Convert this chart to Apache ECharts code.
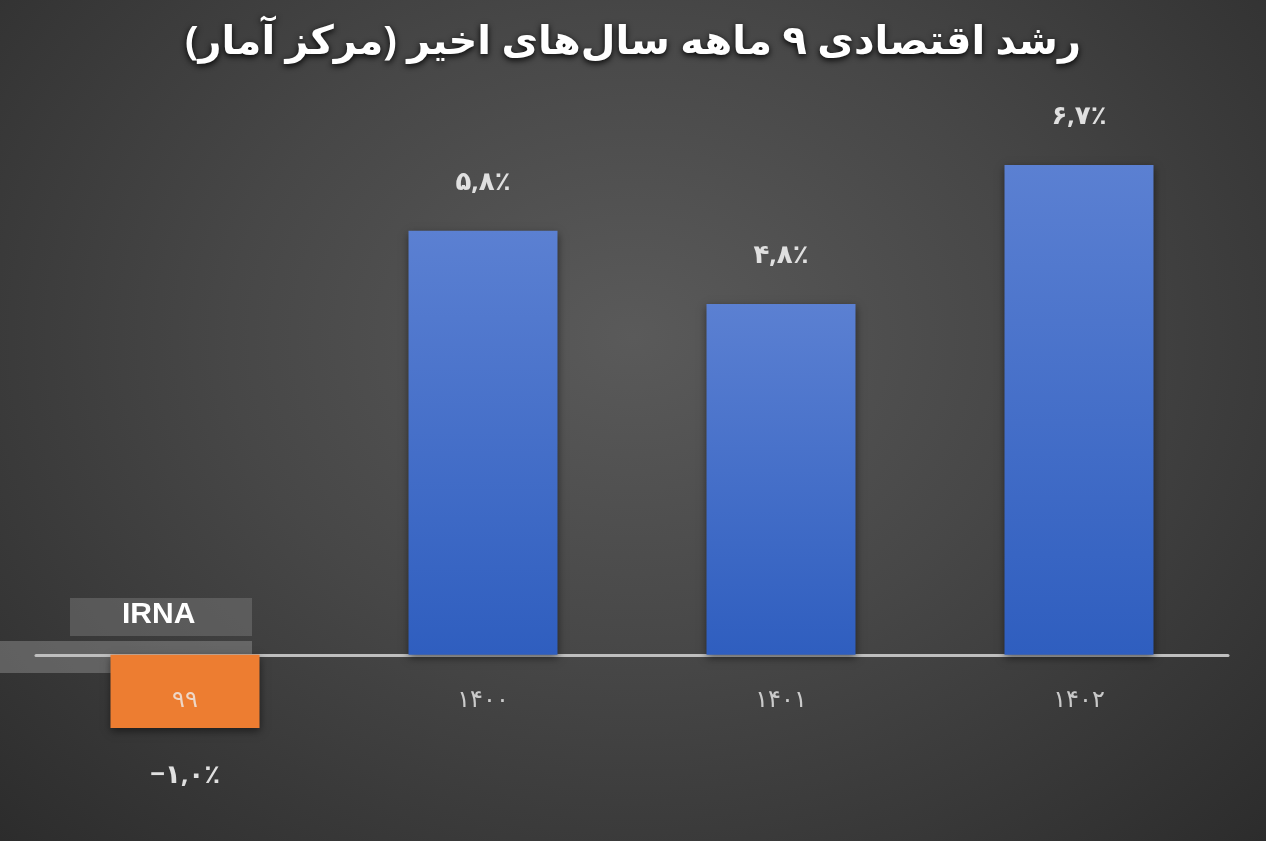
<!DOCTYPE html>
<html><head><meta charset="utf-8">
<script src="https://cdn.jsdelivr.net/npm/echarts@6/dist/echarts.min.js"></script>
<style>html,body{margin:0;padding:0;width:1266px;height:841px;overflow:hidden}
#c{width:1266px;height:841px;background:radial-gradient(ellipse at 50% 40%,#5a5a5a 0%,#474747 45%,#2c2c2c 100%)}</style>
</head><body><div id="c"></div>
<script>
const categories = ['۹۹','۱۴۰۰','۱۴۰۱','۱۴۰۲'];
const values = [-1.0, 5.8, 4.8, 6.7];
const valueLabels = ['−۱,۰٪','۵,۸٪','۴,۸٪','۶,۷٪'];
const title = 'رشد اقتصادی ۹ ماهه سال‌های اخیر (مرکز آمار)';
const chart = echarts.init(document.getElementById('c'));
const blue = new echarts.graphic.LinearGradient(0,0,0,1,[{offset:0,color:'#5b80d2'},{offset:1,color:'#2f5ebf'}]);
const font = 'Noto Sans, DejaVu Sans';
chart.setOption({
  title:{text:title,left:'center',top:18,textStyle:{color:'#fff',fontSize:40,fontWeight:'bold',fontFamily:font,textShadowColor:'#000',textShadowBlur:6,textShadowOffsetY:2}},
  grid:{left:36,right:38,top:70,height:731,containLabel:false,outerBoundsMode:'none'},
  xAxis:{type:'category',data:categories,axisLine:{onZero:true,lineStyle:{color:'#bfbfbf',width:3}},axisTick:{show:false},axisLabel:{show:false}},
  yAxis:{type:'value',min:-2,max:8,show:false,splitLine:{show:false}},
  graphic:[{type:'rect',left:0,top:641,shape:{width:252,height:32},style:{fill:'rgba(150,150,150,0.45)'},z:-1},
    {type:'rect',left:70,top:598,shape:{width:182,height:38},style:{fill:'rgba(120,120,120,0.5)'}},
    {type:'text',left:122,top:600,style:{text:'IRNA',fill:'#fff',font:'bold 30px Liberation Sans'}}],
  series:[{type:'bar',barWidth:'50%',z:2,
    data:values.map((v,i)=>({value:v,itemStyle:{color:v<0?'#ed7d31':blue,shadowColor:'rgba(0,0,0,0.5)',shadowBlur:8,shadowOffsetY:3},
      label:{show:true,position:v<0?'bottom':'top',distance:35,formatter:valueLabels[i],color:'#e0e0e0',fontSize:26,fontWeight:'bold',fontFamily:font}}))},
   {type:'scatter',symbolSize:0,z:5,silent:true,data:categories.map(()=>0),
    label:{show:true,position:'bottom',distance:33,formatter:p=>categories[p.dataIndex],color:'#eeeeee',fontSize:24,fontFamily:font}}]
});
</script></body></html>
